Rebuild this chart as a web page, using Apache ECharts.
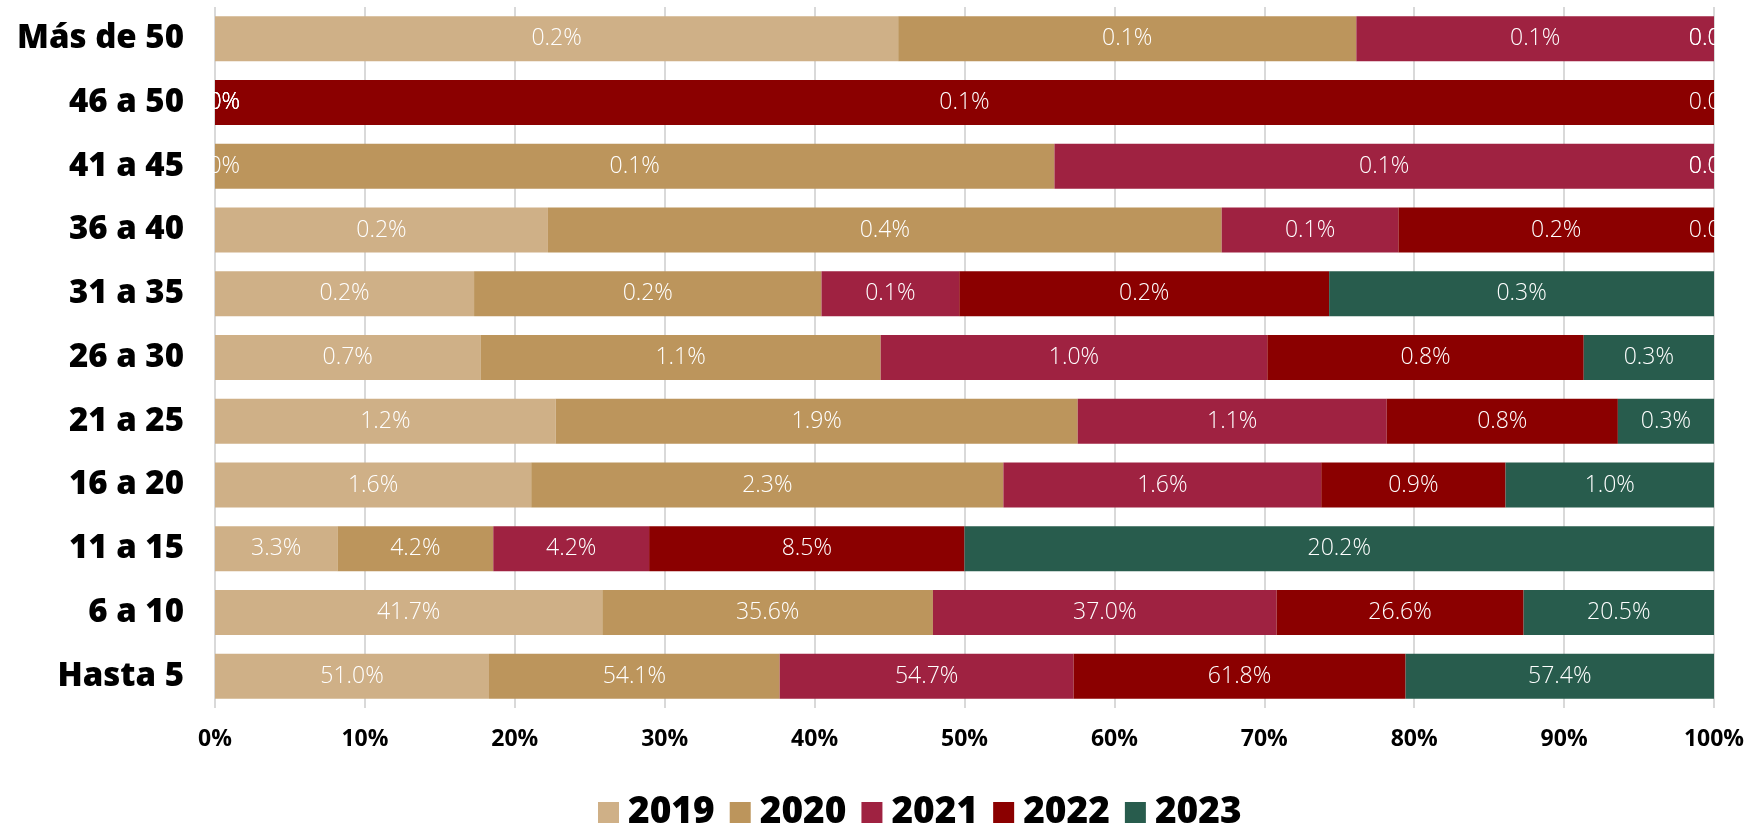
<!DOCTYPE html>
<html>
<head>
<meta charset="utf-8">
<script src="https://cdn.jsdelivr.net/npm/echarts@6/dist/echarts.min.js"></script>
<style>
  html, body { margin: 0; padding: 0; background: #ffffff; }
  #chart { width: 1753px; height: 823px; }
</style>
</head>
<body>
<div id="chart"></div>
<script>
// Age ranges, bottom to top
const categories = ['Hasta 5', '6 a 10', '11 a 15', '16 a 20', '21 a 25', '26 a 30',
                    '31 a 35', '36 a 40', '41 a 45', '46 a 50', 'Más de 50'];

// Percentage of each year's total falling in each range (same order as categories)
const y2019 = [51.0, 41.7, 3.3, 1.561, 1.226, 0.703, 0.173, 0.211, 0,     0,    0.170];
const y2020 = [54.1, 35.6, 4.2, 2.331, 1.879, 1.060, 0.232, 0.427, 0.112, 0,    0.114];
const y2021 = [54.7, 37.0, 4.2, 1.569, 1.112, 1.024, 0.092, 0.112, 0.088, 0,    0.089];
const y2022 = [61.8, 26.6, 8.5, 0.910, 0.832, 0.838, 0.247, 0.200, 0,     0.1,  0];
const y2023 = [57.4, 20.5, 20.2, 1.029, 0.346, 0.345, 0.257, 0,    0,     0,    0];

const years = ['2019', '2020', '2021', '2022', '2023'];
const yearValues = [y2019, y2020, y2021, y2022, y2023];
const xTickLabels = ['0%', '10%', '20%', '30%', '40%', '50%', '60%', '70%', '80%', '90%', '100%'];

const colors = ['#CFB087', '#BC955C', '#9F2241', '#8B0000', '#285C4D'];

// Row totals, used to stretch every range to a full 100% bar
const rowTotals = categories.map((_, i) => yearValues.reduce((s, arr) => s + arr[i], 0));

const series = years.map((name, k) => ({
  name: name,
  type: 'bar',
  stack: 'total',
  barWidth: 45,
  itemStyle: { color: colors[k] },
  label: {
    show: true,
    position: 'inside',
    color: '#ffffff',
    fontFamily: 'Open Sans',
    fontWeight: 300,
    fontSize: 23,
    formatter: p => yearValues[k][p.dataIndex].toFixed(1) + '%'
  },
  emphasis: { disabled: true },
  data: yearValues[k].map((v, i) => v / rowTotals[i] * 100)
}));

const chart = echarts.init(document.getElementById('chart'), null, { renderer: 'canvas' });
chart.setOption({
  backgroundColor: '#ffffff',
  animation: false,
  color: colors,
  grid: { left: 215, right: 39, top: 7, bottom: 115, containLabel: false },
  legend: {
    data: years,
    left: 593,
    top: 789,
    itemWidth: 21,
    itemHeight: 21,
    itemGap: 15,
    icon: 'rect',
    textStyle: {
      fontFamily: 'Open Sans', fontWeight: 800, fontSize: 37, lineHeight: 37,
      color: '#000000', padding: [0, 0, 0, 4]
    }
  },
  xAxis: {
    type: 'value',
    min: 0,
    max: 100,
    interval: 10,
    axisLine: { show: false },
    axisTick: { show: false },
    splitLine: { show: true, lineStyle: { color: '#d9d9d9', width: 2 } },
    axisLabel: {
      margin: 20,
      fontFamily: 'Open Sans',
      fontWeight: 'bold',
      fontSize: 23,
      color: '#000000',
      formatter: v => xTickLabels[Math.round(v / 10)]
    }
  },
  yAxis: {
    type: 'category',
    data: categories,
    axisLine: { show: false },
    axisTick: { show: false },
    axisLabel: {
      margin: 31,
      fontFamily: 'Open Sans',
      fontWeight: 800,
      fontSize: 33,
      color: '#000000'
    }
  },
  series: series
});
</script>
</body>
</html>
